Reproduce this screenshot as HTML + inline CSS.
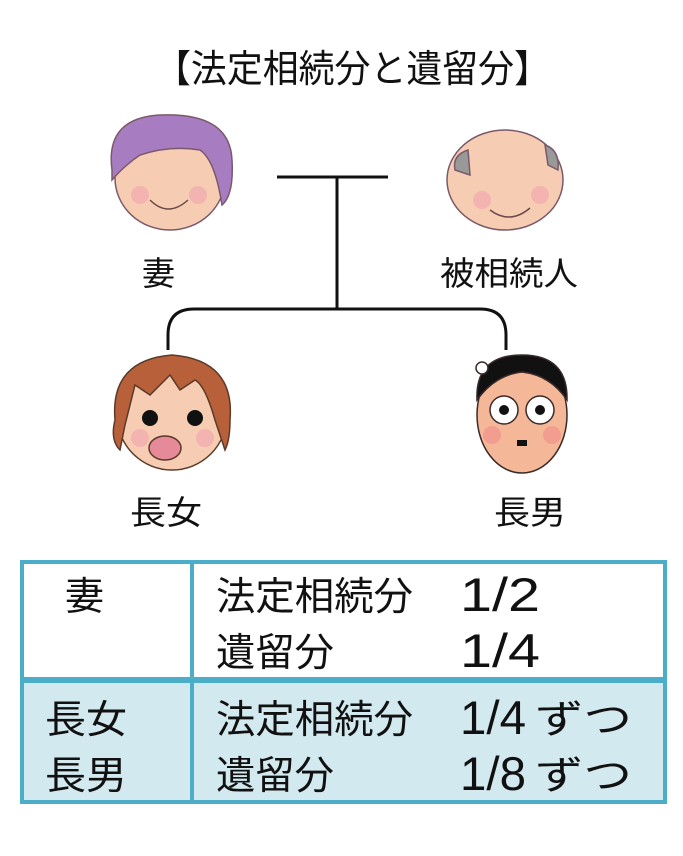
<!DOCTYPE html>
<html><head><meta charset="utf-8"><style>
body{margin:0;background:#fff;width:683px;height:851px;overflow:hidden}
svg text{font-family:"Liberation Sans","Noto Sans CJK JP",sans-serif;fill:#111}
</style></head><body>
<svg width="683" height="851" viewBox="0 0 683 851">
<text x="155" y="82" font-size="38" textLength="395" lengthAdjust="spacingAndGlyphs">【法定相続分と遺留分】</text>
<g stroke="#111" stroke-width="3" fill="none">
<line x1="277" y1="177" x2="388" y2="177"/>
<line x1="337" y1="177" x2="337" y2="309"/>
<path d="M168 350 V335 Q168 309 194 309 H480 Q506 309 506 335 V350"/>
</g>
<g stroke="#7a5a6a" stroke-width="1.5">
<ellipse cx="170" cy="178" rx="55" ry="52" fill="#f6cdb2"/>
<path d="M112 170 Q105 118 160 115 Q230 112 232 160 Q234 195 222 205 Q215 160 200 150 Q170 145 140 155 Q125 165 112 180 Z" fill="#a87cc0"/>
</g>
<circle cx="140" cy="195" r="9" fill="#f2a8b0" opacity=".7"/><circle cx="198" cy="195" r="9" fill="#f2a8b0" opacity=".7"/>
<path d="M150 200 Q168 218 188 200" stroke="#6a4a4a" fill="none" stroke-width="1.5"/>
<g stroke="#7a5a6a" stroke-width="1.5">
<ellipse cx="505" cy="180" rx="58" ry="50" fill="#f6cdb2"/>
<path d="M455 170 Q452 155 468 150 L470 175 Z" fill="#999"/>
<path d="M545 145 Q560 150 558 170 L548 165 Z" fill="#999"/>
</g>
<circle cx="482" cy="200" r="9" fill="#f2a8b0" opacity=".7"/><circle cx="540" cy="195" r="9" fill="#f2a8b0" opacity=".7"/>
<path d="M490 210 Q510 225 530 208" stroke="#6a4a4a" fill="none" stroke-width="1.5"/>
<g stroke="#5a3a2a" stroke-width="1.5">
<ellipse cx="172" cy="415" rx="55" ry="55" fill="#f6cdb2"/>
<path d="M115 420 Q110 360 172 355 Q235 360 230 420 Q230 440 225 450 L215 420 Q205 385 195 380 L180 390 L170 375 L150 395 L135 385 L125 425 L120 450 Q110 440 115 420 Z" fill="#b8603a"/>
<ellipse cx="165" cy="448" rx="16" ry="12" fill="#e68a9a"/>
</g>
<circle cx="150" cy="418" r="8" fill="#111"/><circle cx="195" cy="418" r="8" fill="#111"/>
<circle cx="140" cy="438" r="9" fill="#f2a8b0" opacity=".7"/><circle cx="205" cy="438" r="9" fill="#f2a8b0" opacity=".7"/>
<g stroke="#3a2a2a" stroke-width="1.5">
<ellipse cx="522" cy="415" rx="45" ry="58" fill="#f4b898"/>
<path d="M477 400 Q475 355 522 355 Q568 355 567 400 Q550 375 522 372 Q495 375 477 400 Z" fill="#111"/>
<circle cx="504" cy="410" r="14" fill="#fff"/><circle cx="540" cy="410" r="14" fill="#fff"/>
<circle cx="482" cy="368" r="6" fill="#fff"/>
</g>
<circle cx="504" cy="410" r="5" fill="#111"/><circle cx="540" cy="410" r="5" fill="#111"/>
<path d="M517 440 h10 v6 h-10z" fill="#111"/>
<circle cx="492" cy="435" r="9" fill="#f08a8a" opacity=".6"/><circle cx="552" cy="435" r="9" fill="#f08a8a" opacity=".6"/>
<g font-size="33">
<text x="142" y="285">妻</text>
<text x="440" y="285" textLength="138" lengthAdjust="spacingAndGlyphs">被相続人</text>
<text x="130" y="524" textLength="72" lengthAdjust="spacingAndGlyphs">長女</text>
<text x="494" y="524" textLength="72" lengthAdjust="spacingAndGlyphs">長男</text>
</g>
<rect x="22" y="683" width="643" height="118" fill="#d3e9f0"/>
<g stroke="#4badc8" fill="none">
<rect x="22" y="562" width="643" height="240" stroke-width="4"/>
<line x1="192" y1="562" x2="192" y2="802" stroke-width="4"/>
<line x1="22" y1="680" x2="665" y2="680" stroke-width="6"/>
</g>
<g font-size="39">
<text x="65" y="610">妻</text>
<text x="216" y="610" textLength="197" lengthAdjust="spacingAndGlyphs">法定相続分</text>
<text x="216" y="666" textLength="118" lengthAdjust="spacingAndGlyphs">遺留分</text>
<text x="45" y="733" textLength="82" lengthAdjust="spacingAndGlyphs">長女</text>
<text x="45" y="789" textLength="82" lengthAdjust="spacingAndGlyphs">長男</text>
<text x="216" y="733" textLength="197" lengthAdjust="spacingAndGlyphs">法定相続分</text>
<text x="216" y="789" textLength="118" lengthAdjust="spacingAndGlyphs">遺留分</text>
<text x="535" y="733" textLength="97" lengthAdjust="spacingAndGlyphs">ずつ</text>
<text x="535" y="789" textLength="97" lengthAdjust="spacingAndGlyphs">ずつ</text>
</g>
<g font-size="47">
<text x="460" y="611" textLength="80" lengthAdjust="spacingAndGlyphs">1/2</text>
<text x="460" y="667" textLength="80" lengthAdjust="spacingAndGlyphs">1/4</text>
<text x="460" y="734" textLength="66" lengthAdjust="spacingAndGlyphs">1/4</text>
<text x="460" y="790" textLength="66" lengthAdjust="spacingAndGlyphs">1/8</text>
</g>
</svg>
</body></html>
